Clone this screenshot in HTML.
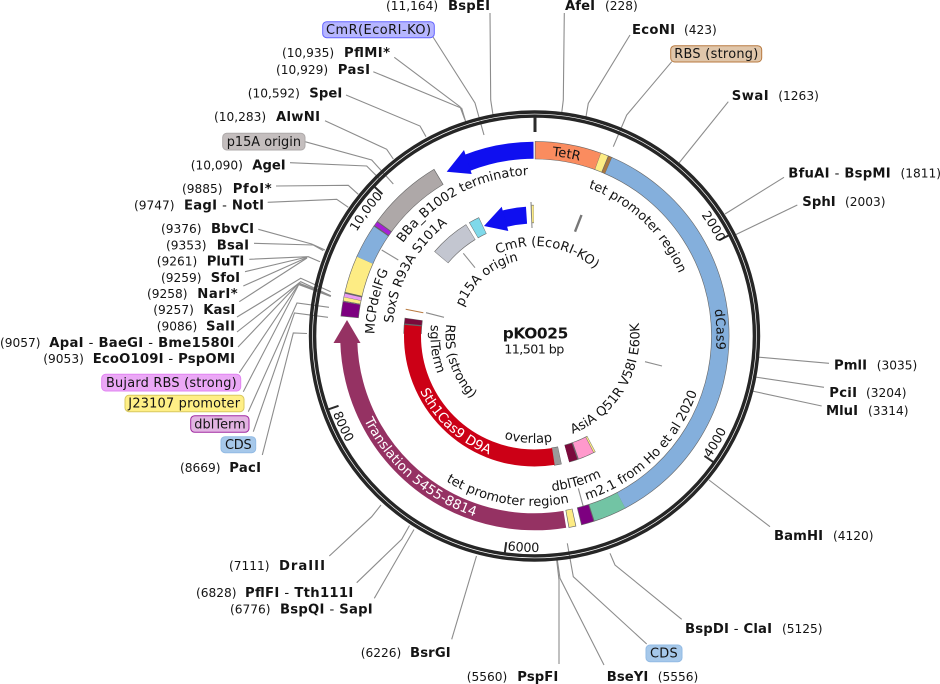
<!DOCTYPE html>
<html><head><meta charset="utf-8"><style>
html,body{margin:0;padding:0;background:#fff}
svg{display:block}
text{font-family:"DejaVu Sans","Liberation Sans",sans-serif;font-size:12.2px;fill:#141414}
.b{font-weight:bold;font-size:13.2px}
.h{font-weight:normal}
.a{font-size:13px}
.x{font-size:12.9px}
.k{font-size:12.7px}
.w{fill:#fff;font-size:13.4px}
.l{fill:none;stroke:#8c8c8c;stroke-width:1.1}
.t circle{fill:none}
</style></head><body>
<svg width="940" height="684" viewBox="0 0 940 684" xmlns="http://www.w3.org/2000/svg">
<defs>
<path id="c181" d="M534.5 517A181 181 0 1 1 534.5 155A181 181 0 1 1 534.5 517"/>
<path id="c157" d="M534.5 493.5A157.5 157.5 0 1 1 534.5 178.5A157.5 157.5 0 1 1 534.5 493.5"/>
<path id="c182" d="M534.5 518A182 182 0 1 1 534.5 154A182 182 0 1 1 534.5 518"/>
<path id="c90" d="M534.5 426A90 90 0 1 1 534.5 246A90 90 0 1 1 534.5 426"/>
<path id="c77" d="M534.5 413A77 77 0 1 1 534.5 259A77 77 0 1 1 534.5 413"/>
<path id="c161" d="M534.5 497A161 161 0 1 1 534.5 175A161 161 0 1 1 534.5 497"/>
<path id="c142" d="M534.5 478A142 142 0 1 1 534.5 194A142 142 0 1 1 534.5 478"/>
<path id="c160" d="M534.5 496A160 160 0 1 1 534.5 176A160 160 0 1 1 534.5 496"/>
<path id="c206" d="M534.5 542A206 206 0 1 1 534.5 130A206 206 0 1 1 534.5 542"/>
<path id="r172" d="M534.5 164A172 172 0 1 0 534.5 508A172 172 0 1 0 534.5 164"/>
<path id="r156" d="M534.5 180A156 156 0 1 0 534.5 492A156 156 0 1 0 534.5 180"/>
<path id="r170" d="M534.5 166A170 170 0 1 0 534.5 506A170 170 0 1 0 534.5 166"/>
<path id="r190" d="M534.5 146A190 190 0 1 0 534.5 526A190 190 0 1 0 534.5 146"/>
<path id="r127" d="M534.5 209A127 127 0 1 0 534.5 463A127 127 0 1 0 534.5 209"/>
<path id="r107" d="M534.5 229A107 107 0 1 0 534.5 443A107 107 0 1 0 534.5 229"/>
<path id="r105" d="M534.5 231A105 105 0 1 0 534.5 441A105 105 0 1 0 534.5 231"/>
<path id="r104" d="M534.5 232A104 104 0 1 0 534.5 440A104 104 0 1 0 534.5 232"/>
<path id="r89" d="M534.5 247A89 89 0 1 0 534.5 425A89 89 0 1 0 534.5 247"/>
<path id="r214" d="M534.5 122A214 214 0 1 0 534.5 550A214 214 0 1 0 534.5 122"/>
<path id="r216" d="M534.5 120A216 216 0 1 0 534.5 552A216 216 0 1 0 534.5 120"/>
</defs>

<!-- connector lines -->
<g class="l">
<polyline points="433,37 475,103 484,135"/>
<polyline points="490,13 490.7,100 493,115"/>
<polyline points="564.3,13 563.3,100 561.7,113"/>
<polyline points="630,35 588.3,103.3 586,116.7"/>
<polyline points="671.7,61.7 626.7,115 613.3,146.7"/>
<polyline points="728.3,101.7 679,163"/>
<polyline points="394.3,57.3 460,106.7 465,120"/>
<polyline points="373.3,71.7 461.7,108.3 465.7,121.7"/>
<polyline points="346,95 420,126 426,136.7"/>
<polyline points="325,120.7 386.7,149.3 393.3,159"/>
<polyline points="305,141.7 371.7,160 393.3,184"/>
<polyline points="290,162.7 366.7,166 380,179.3"/>
<polyline points="276,186 348.3,185.3 358.3,194.3"/>
<polyline points="267.7,202.3 336.7,199.3 348.3,207.3"/>
<polyline points="258.3,229.3 311.7,244 325,250"/>
<polyline points="254,243.3 313.3,245 323.3,250.7"/>
<polyline points="249.3,259.3 308.3,256.7 320,261.7"/>
<polyline points="245,271.7 307,257"/>
<polyline points="243.3,286 307,257.5"/>
<polyline points="239.3,301.7 307,258"/>
<polyline points="237,317 300.7,278.3 330.7,291.7"/>
<polyline points="237,332 300.7,281.7 330.7,295.7"/>
<polyline points="238,347 299,283 330.7,295.7"/>
<polyline points="239.3,372.7 298.5,284.5 330.7,296.5"/>
<polyline points="243.3,391.7 299,284 331,296"/>
<polyline points="248.3,411.7 297,303 329,307.3"/>
<polyline points="253.3,431.7 294.5,313 328,317.3"/>
<polyline points="262.3,455 293.3,333 307,333.5"/>
<polyline points="784,177.3 725,214"/>
<polyline points="797.3,205 735,235"/>
<polyline points="829,363.3 757,357"/>
<polyline points="824,387.3 755,377"/>
<polyline points="821.7,406 752,391"/>
<polyline points="770,526.7 709,480"/>
<polyline points="681.7,619.3 615,565 610,553.3"/>
<polyline points="646.7,644 573.3,576.7 567.3,543.3"/>
<polyline points="604,665 560,578.3 557.3,560"/>
<polyline points="559,664 559,580 556.7,560"/>
<polyline points="451.7,639.3 476.5,556"/>
<polyline points="374.3,598.3 414,529.5"/>
<polyline points="356.7,582.7 401.7,539.3 409.5,525.5"/>
<polyline points="329.3,556 371.7,516.7 381,505"/>
<!-- interior connectors -->
<line x1="381.7" y1="250" x2="398.3" y2="260"/>
<line x1="463.3" y1="253.3" x2="475" y2="267.7"/>
<line x1="426" y1="312.7" x2="444" y2="317.3"/>
<line x1="645" y1="361.7" x2="662" y2="366"/>
<line x1="578.3" y1="488.3" x2="583.3" y2="506.7"/>
<line x1="531" y1="202" x2="532" y2="228"/>
</g>
<line x1="405.7" y1="309.3" x2="423.3" y2="312.7" stroke="#b87a40" stroke-width="1"/>
<line x1="581.5" y1="215" x2="575" y2="231.7" stroke="#777" stroke-width="2.4"/>

<!-- ring and ticks -->
<circle cx="534.5" cy="336" r="224" fill="none" stroke="#262626" stroke-width="3.4"/>
<circle cx="534.5" cy="336" r="219.9" fill="none" stroke="#262626" stroke-width="3.4"/>
<line x1="535" y1="117" x2="535" y2="132" stroke="#2b2b2b" stroke-width="3"/>
<g transform="translate(534.5 336)" stroke="#2b2b2b" stroke-width="2">
<line x1="0" y1="-208" x2="0" y2="-219" transform="rotate(62.6)"/>
<line x1="0" y1="-208" x2="0" y2="-219" transform="rotate(125.2)"/>
<line x1="0" y1="-208" x2="0" y2="-219" transform="rotate(187.8)"/>
<line x1="0" y1="-208" x2="0" y2="-219" transform="rotate(250.4)"/>
<line x1="0" y1="-208" x2="0" y2="-219" transform="rotate(313)"/>
</g>

<!-- features -->
<g class="t" transform="translate(534.5 336) rotate(-90)">
<!-- outer track outlines -->
<g stroke="#666" stroke-width="18.2">
<circle r="185.8" pathLength="360" stroke-dasharray="20 360" stroke-dashoffset="-0.1"/>
<circle r="185.8" pathLength="360" stroke-dasharray="2.6 360" stroke-dashoffset="-19.8"/>
<circle r="185.8" pathLength="360" stroke-dasharray="1.4 360" stroke-dashoffset="-22.2"/>
<circle r="185.8" pathLength="360" stroke-dasharray="129 360" stroke-dashoffset="-23.3"/>
<circle r="185.8" pathLength="360" stroke-dasharray="10.2 360" stroke-dashoffset="-152"/>
<circle r="185.8" pathLength="360" stroke-dasharray="4 360" stroke-dashoffset="-162.1"/>
<circle r="185.8" pathLength="360" stroke-dasharray="2.3 360" stroke-dashoffset="-167.6"/>
<circle r="185.8" pathLength="360" stroke-dasharray="4.5 360" stroke-dashoffset="-275.8"/>
<circle r="185.8" pathLength="360" stroke-dasharray="2.8 360" stroke-dashoffset="-280.3"/>
<circle r="185.8" pathLength="360" stroke-dasharray="11.4 360" stroke-dashoffset="-282.9"/>
<circle r="185.8" pathLength="360" stroke-dasharray="10.6 360" stroke-dashoffset="-293.9"/>
<circle r="185.8" pathLength="360" stroke-dasharray="24.8 360" stroke-dashoffset="-304.2"/>
</g>
<g stroke-width="17">
<circle r="185.8" stroke="#fa8c5f" pathLength="360" stroke-dasharray="19.6 360" stroke-dashoffset="-0.3"/>
<circle r="185.8" stroke="#fdec84" pathLength="360" stroke-dasharray="2.2 360" stroke-dashoffset="-20"/>
<circle r="185.8" stroke="#a9763f" pathLength="360" stroke-dasharray="1 360" stroke-dashoffset="-22.4"/>
<circle r="185.8" stroke="#84afdc" pathLength="360" stroke-dasharray="128.7 360" stroke-dashoffset="-23.5"/>
<circle r="185.8" stroke="#72c4a4" pathLength="360" stroke-dasharray="9.8 360" stroke-dashoffset="-152.2"/>
<circle r="185.8" stroke="#7d0080" pathLength="360" stroke-dasharray="3.6 360" stroke-dashoffset="-162.3"/>
<circle r="185.8" stroke="#fdec84" pathLength="360" stroke-dasharray="1.9 360" stroke-dashoffset="-167.8"/>
<circle r="185.8" stroke="#953263" pathLength="360" stroke-dasharray="97.9 360" stroke-dashoffset="-170.6"/>
<circle r="185.8" stroke="#7d0080" pathLength="360" stroke-dasharray="4.1 360" stroke-dashoffset="-276"/>
<circle r="185.8" stroke="#fdec84" pathLength="360" stroke-dasharray="1 360" stroke-dashoffset="-280.5"/>
<circle r="185.8" stroke="#ea9cf2" pathLength="360" stroke-dasharray="1 360" stroke-dashoffset="-281.6"/>
<circle r="185.8" stroke="#fdec84" pathLength="360" stroke-dasharray="11 360" stroke-dashoffset="-283.1"/>
<circle r="185.8" stroke="#84afdc" pathLength="360" stroke-dasharray="10.2 360" stroke-dashoffset="-294.1"/>
<circle r="185.8" stroke="#a71ed8" pathLength="360" stroke-dasharray="1.2 360" stroke-dashoffset="-304.7"/>
<circle r="185.8" stroke="#aea8a8" pathLength="360" stroke-dasharray="22.6 360" stroke-dashoffset="-306.2"/>
<circle r="185.8" stroke="#0f0ff0" pathLength="360" stroke-dasharray="21.2 360" stroke-dashoffset="-338.5"/>
</g>
<!-- inner track outlines -->
<g stroke="#666" stroke-width="18.2">
<circle r="122" pathLength="360" stroke-dasharray="18.4 360" stroke-dashoffset="-310.1"/>
<circle r="122" pathLength="360" stroke-dasharray="4.9 360" stroke-dashoffset="-330"/>
<circle r="122" pathLength="360" stroke-dasharray="1 360" stroke-dashoffset="-358.7"/>
<circle r="122" pathLength="360" stroke-dasharray="12.4 360" stroke-dashoffset="-152.2"/>
<circle r="122" pathLength="360" stroke-dasharray="3.4 360" stroke-dashoffset="-168"/>
<circle r="122" pathLength="360" stroke-dasharray="7 360" stroke-dashoffset="-271"/>
</g>
<g stroke-width="17">
<circle r="122" stroke="#c3c6d0" pathLength="360" stroke-dasharray="18 360" stroke-dashoffset="-310.3"/>
<circle r="122" stroke="#7fd9ea" pathLength="360" stroke-dasharray="4.5 360" stroke-dashoffset="-330.2"/>
<circle r="122" stroke="#fdec84" pathLength="360" stroke-dasharray="0.8 360" stroke-dashoffset="-358.8"/>
<circle r="121" stroke="#0f0ff0" pathLength="360" stroke-dasharray="11.2 360" stroke-dashoffset="-345"/>
<circle r="122" stroke="#fdec84" pathLength="360" stroke-dasharray="0.6 360" stroke-dashoffset="-152.4"/>
<circle r="122" stroke="#ff99cc" pathLength="360" stroke-dasharray="7 360" stroke-dashoffset="-153.2"/>
<circle r="122" stroke="#7a0a3c" pathLength="360" stroke-dasharray="3.8 360" stroke-dashoffset="-160.8"/>
<circle r="122" stroke="#9a9a9a" pathLength="360" stroke-dasharray="3 360" stroke-dashoffset="-168.2"/>
<circle r="122" stroke="#cc0016" pathLength="360" stroke-dasharray="103.8 360" stroke-dashoffset="-171.1"/>
<circle r="122" stroke="#7a0a3c" pathLength="360" stroke-dasharray="2.3 360" stroke-dashoffset="-275.5"/>
</g>
</g>
<polygon points="347,320 333.5,343 360.5,343" fill="#953263"/>
<polygon points="446.7,171.7 464,150 471.7,174" fill="#0f0ff0"/>
<polygon points="484,226 501.7,206.7 508.3,231" fill="#0f0ff0"/>

<!-- curved labels -->
<text class="a"><textPath href="#c181" startOffset="52.78%" text-anchor="middle">TetR</textPath></text>
<text class="a"><textPath href="#c157" startOffset="62.03%" text-anchor="middle">tet promoter region</textPath></text>
<text class="a"><textPath href="#c182" startOffset="74.44%" text-anchor="middle">dCas9</textPath></text>
<text class="a"><textPath href="#c90" startOffset="52.46%" text-anchor="middle">CmR (EcoRI-KO)</textPath></text>
<text class="a"><textPath href="#c77" startOffset="38.89%" text-anchor="middle">p15A origin</textPath></text>
<text class="a"><textPath href="#c161" startOffset="42.08%" text-anchor="middle">BBa_B1002 terminator</textPath></text>
<text class="a"><textPath href="#c142" startOffset="32.97%" text-anchor="middle">SoxS R93A S101A</textPath></text>
<text class="a"><textPath href="#c160" startOffset="28.44%" text-anchor="middle">MCPdelFG</textPath></text>
<text class="k"><textPath href="#c206" startOffset="35.14%" text-anchor="middle">10,000</textPath></text>
<text class="k"><textPath href="#c206" startOffset="66.25%" text-anchor="middle">2000</textPath></text>
<text class="a"><textPath href="#r172" startOffset="62.31%" text-anchor="middle">m2.1 from Ho et al 2020</textPath></text>
<text class="a"><textPath href="#r156" startOffset="54.44%" text-anchor="middle">dblTerm</textPath></text>
<text class="a"><textPath href="#r170" startOffset="47.28%" text-anchor="middle">tet promoter region</textPath></text>
<text class="w"><textPath href="#r190" startOffset="38.61%" text-anchor="middle">Translation 5455-8814</textPath></text>
<text class="w"><textPath href="#r127" startOffset="38.14%" text-anchor="middle">Sth1Cas9 D9A</textPath></text>
<text class="a"><textPath href="#r107" startOffset="49.06%" text-anchor="middle">overlap</textPath></text>
<text class="a"><textPath href="#r105" startOffset="66.47%" text-anchor="middle">AsiA Q51R V58I E60K</textPath></text>
<text class="a"><textPath href="#r104" startOffset="27.08%" text-anchor="middle">sglTerm</textPath></text>
<text class="a"><textPath href="#r89" startOffset="30.14%" text-anchor="middle">RBS (strong)</textPath></text>
<text class="k"><textPath href="#r214" startOffset="66.53%" text-anchor="middle">4000</textPath></text>
<text class="k"><textPath href="#r216" startOffset="49.17%" text-anchor="middle">6000</textPath></text>
<text class="k"><textPath href="#r216" startOffset="32.03%" text-anchor="middle">8000</textPath></text>

<!-- center -->
<text x="502.7" y="338.5" style="font-size:15.4px;font-weight:bold" textLength="65.6">pKO025</text>
<text class="k" x="504.3" y="353.3" textLength="60">11,501 bp</text>

<!-- boxed labels -->
<rect x="322.7" y="21.7" width="111.6" height="16" rx="4" fill="#b6b6ff" stroke="#6464ff"/>
<text class="x" x="326" y="34" textLength="105">CmR(EcoRI-KO)</text>
<rect x="670.7" y="45.7" width="91" height="16.3" rx="4" fill="#e0c6aa" stroke="#b87a40"/>
<text class="x" x="674.3" y="58.2" textLength="84">RBS (strong)</text>
<rect x="222.7" y="133.3" width="82.3" height="16.7" rx="4" fill="#c4bebe" stroke="#aeaaaa"/>
<text class="x" x="226.7" y="146" textLength="74.3">p15A origin</text>
<rect x="101.7" y="374.3" width="139" height="16.7" rx="4" fill="#eba8f6" stroke="#e284f2"/>
<text class="x" x="106" y="387" textLength="130.7">Bujard RBS (strong)</text>
<rect x="125" y="395.3" width="119" height="16.4" rx="4" fill="#ffef86" stroke="#d8c860"/>
<text class="x" x="128.3" y="407.7" textLength="111.7">J23107 promoter</text>
<rect x="190.7" y="415.7" width="58.3" height="16.6" rx="4" fill="#e2b4e2" stroke="#a028a0"/>
<text class="x" x="194.3" y="428.3" textLength="51.4">dblTerm</text>
<rect x="221" y="436.7" width="34.7" height="16" rx="4" fill="#a6c8ea" stroke="#93bbe4"/>
<text class="x" x="225" y="449" textLength="26.7">CDS</text>
<rect x="646" y="645" width="36" height="16.7" rx="4" fill="#a6c8ea" stroke="#93bbe4"/>
<text class="x" x="650" y="657.5" textLength="27.7">CDS</text>

<!-- site labels: top -->
<text x="386" y="10">(11,164)</text><text class="b" x="448" y="10" textLength="42">BspEI</text>
<text class="b" x="565" y="10" textLength="30">AfeI</text><text x="605" y="10">(228)</text>
<text class="b" x="632" y="34" textLength="43">EcoNI</text><text x="684" y="34">(423)</text>
<text x="282" y="57">(10,935)</text><text class="b" x="344" y="57" textLength="46">PflMI*</text>
<text x="276" y="74">(10,929)</text><text class="b" x="337.7" y="74" textLength="32.3">PasI</text>
<text x="247.7" y="97.5">(10,592)</text><text class="b" x="309.3" y="97.5" textLength="33">SpeI</text>
<text x="214" y="121">(10,283)</text><text class="b" x="276" y="121" textLength="44">AlwNI</text>
<text x="190.7" y="169.5">(10,090)</text><text class="b" x="252.3" y="169.5" textLength="33.4">AgeI</text>
<text x="182" y="193">(9885)</text><text class="b" x="232.7" y="193" textLength="39">PfoI*</text>
<text x="134" y="209.5">(9747)</text><text class="b" x="184" y="209.5" textLength="80">EagI <tspan class="h">-</tspan> NotI</text>
<text x="161" y="233">(9376)</text><text class="b" x="211" y="233" textLength="43">BbvCI</text>
<text x="166" y="249.5">(9353)</text><text class="b" x="216.7" y="249.5" textLength="32.3">BsaI</text>
<text x="156.7" y="265.5">(9261)</text><text class="b" x="206.7" y="265.5" textLength="37.6">PluTI</text>
<text x="161" y="282">(9259)</text><text class="b" x="210.7" y="282" textLength="29.3">SfoI</text>
<text x="147" y="298">(9258)</text><text class="b" x="197.3" y="298" textLength="40.4">NarI*</text>
<text x="153.3" y="314">(9257)</text><text class="b" x="203.3" y="314" textLength="32">KasI</text>
<text x="156.7" y="330.5">(9086)</text><text class="b" x="206" y="330.5" textLength="29">SalI</text>
<text x="0" y="347">(9057)</text><text class="b" x="49.3" y="347" textLength="185">ApaI <tspan class="h">-</tspan> BaeGI <tspan class="h">-</tspan> Bme1580I</text>
<text x="43.3" y="363">(9053)</text><text class="b" x="92.7" y="363" textLength="142.3">EcoO109I <tspan class="h">-</tspan> PspOMI</text>
<text x="180" y="472">(8669)</text><text class="b" x="229.3" y="472" textLength="31.7">PacI</text>
<!-- right -->
<text class="b" x="731.7" y="100" textLength="37">SwaI</text><text x="778.3" y="100">(1263)</text>
<text class="b" x="788.3" y="177.5" textLength="102.4">BfuAI <tspan class="h">-</tspan> BspMI</text><text x="900.5" y="177.5">(1811)</text>
<text class="b" x="802.3" y="206" textLength="33.4">SphI</text><text x="845" y="206">(2003)</text>
<text class="b" x="834" y="369.5" textLength="33">PmlI</text><text x="876.7" y="369.5">(3035)</text>
<text class="b" x="829.3" y="397" textLength="27.7">PciI</text><text x="866" y="397">(3204)</text>
<text class="b" x="826" y="415" textLength="32">MluI</text><text x="868" y="415">(3314)</text>
<text class="b" x="774" y="540" textLength="49">BamHI</text><text x="833" y="540">(4120)</text>
<text class="b" x="685" y="633" textLength="87">BspDI <tspan class="h">-</tspan> ClaI</text><text x="782" y="633">(5125)</text>
<!-- bottom -->
<text class="b" x="606.7" y="681" textLength="41.6">BseYI</text><text x="657.7" y="681">(5556)</text>
<text x="466.7" y="681">(5560)</text><text class="b" x="517.3" y="681" textLength="41">PspFI</text>
<text x="360.7" y="657">(6226)</text><text class="b" x="410" y="657" textLength="40.7">BsrGI</text>
<text x="230" y="613.5">(6776)</text><text class="b" x="280" y="613.5" textLength="92.7">BspQI <tspan class="h">-</tspan> SapI</text>
<text x="196" y="597">(6828)</text><text class="b" x="245" y="597" textLength="108.3">PflFI <tspan class="h">-</tspan> Tth111I</text>
<text x="229" y="570">(7111)</text><text class="b" x="279" y="570" textLength="46">DraIII</text>
</svg>
</body></html>
